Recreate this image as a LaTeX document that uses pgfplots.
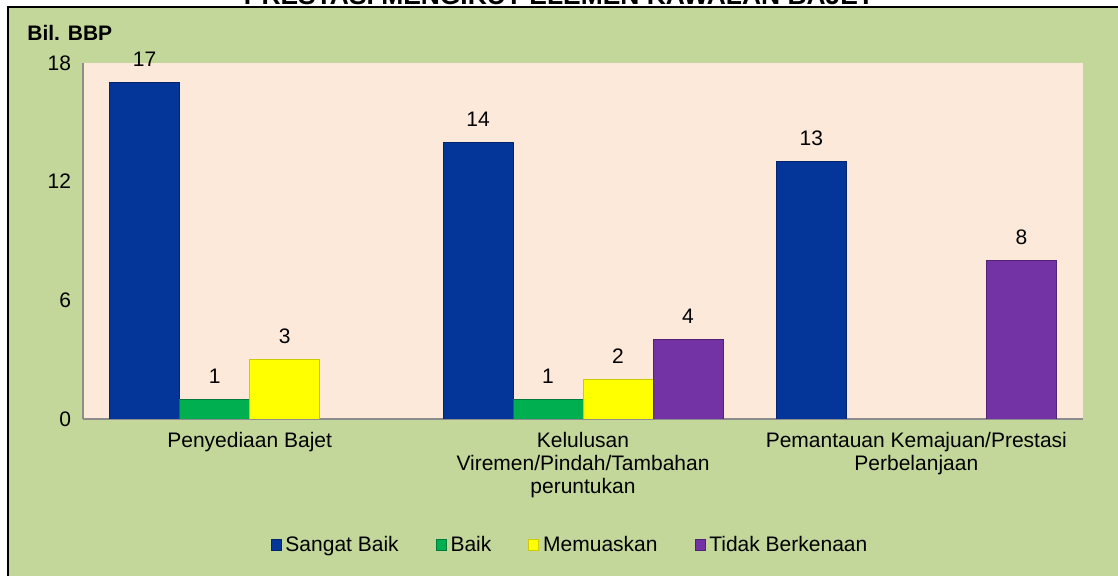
\documentclass[border=0pt]{standalone}
\usepackage{fontspec}
\setmainfont{Liberation Sans}
\usepackage{pgfplots}
\pgfplotsset{compat=1.18}
\definecolor{bgGreen}{HTML}{C4D79B}
\definecolor{peach}{HTML}{FDE9D9}
\definecolor{cBlue}{HTML}{043599}
\definecolor{cGreen}{HTML}{00B050}
\definecolor{cYellow}{HTML}{FFFF00}
\definecolor{cPurple}{HTML}{7433A4}
\definecolor{axGray}{HTML}{8C8C8C}
\begin{document}
\begin{tikzpicture}
\path[use as bounding box] (0,0) rectangle (559pt,288pt);
\clip (0,0) rectangle (559pt,288pt);
\fill[white] (0,0) rectangle (559pt,288pt);
\filldraw[fill=bgGreen, draw=black, line width=1pt] (3.75pt,-5pt) rectangle (570pt,284.5pt);
\node[font=\fontsize{13.2}{15}\selectfont\bfseries, anchor=base, inner sep=0] at (279.5pt,285.5pt) {PRESTASI MENGIKUT ELEMEN KAWALAN BAJET};
\node[font=\fontsize{10.5}{12}\selectfont\bfseries, anchor=base west, inner sep=0] at (13.5pt,267.5pt) {Bil. BBP};
\begin{axis}[
  at={(41.5pt,78.5pt)}, anchor=south west,
  scale only axis, width=500pt, height=178pt,
  font=\fontsize{10.5}{12}\selectfont,
  /pgf/number format/assume math mode=true,
  ybar=0pt, bar width=35pt,
  xmin=-0.5, xmax=2.5, ymin=0, ymax=18,
  xtick={0,1,2},
  xticklabels={{Penyediaan Bajet},{Kelulusan\\Viremen/Pindah/Tambahan\\peruntukan},{Pemantauan Kemajuan/Prestasi\\Perbelanjaan}},
  xticklabel style={align=center, font=\fontsize{10.5}{11.6}\selectfont, yshift=-3pt},
  ytick={0,6,12,18},
  yticklabel style={xshift=-2.5pt},
  major tick length=0pt,
  axis x line*=bottom, axis y line*=left,
  axis line style={axGray, line width=0.8pt, -},
  axis background/.style={fill=peach},
  nodes near coords,
  every node near coord/.append style={font=\fontsize{10.5}{12}\selectfont, yshift=4.5pt, black},
  legend columns=4,
  legend style={draw=none, fill=none, at={(0.488,-0.354)}, anchor=center,
    font=\fontsize{10.5}{12}\selectfont,
    /tikz/every even column/.append style={column sep=16.5pt}},
  legend image code/.code={\draw[#1] (0pt,-2.6pt) rectangle (5pt,2.6pt);},
  legend cell align=left,
]
\addplot[fill=cBlue, draw=cBlue!70!black] coordinates {(0,17) (1,14) (2,13)};
\addplot[fill=cGreen, draw=cGreen!70!black] coordinates {(0,1) (1,1)};
\addplot[fill=cYellow, draw=cYellow!80!black] coordinates {(0,3) (1,2)};
\addplot[fill=cPurple, draw=cPurple!70!black] coordinates {(1,4) (2,8)};
\legend{Sangat Baik, Baik, Memuaskan, Tidak Berkenaan}
\end{axis}
\end{tikzpicture}
\end{document}
